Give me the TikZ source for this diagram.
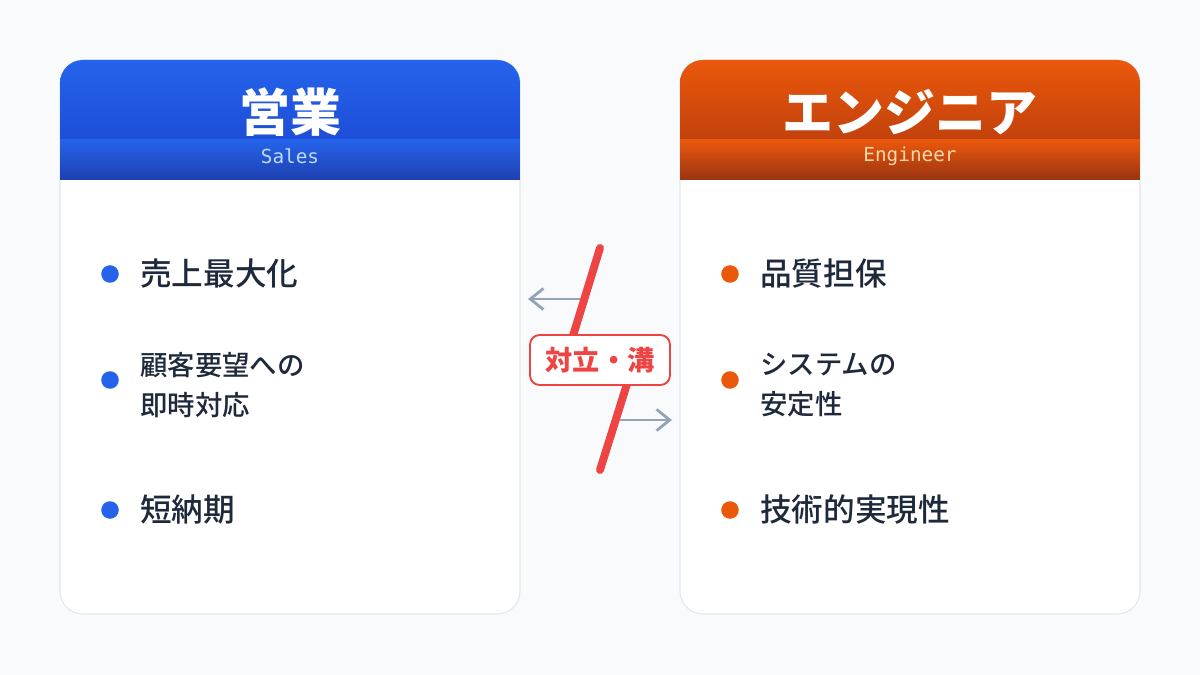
\documentclass[tikz,border=0pt]{standalone}
\usepackage{fontspec}
\setmainfont{Noto Sans CJK JP}
\setmonofont{DejaVu Sans Mono}
\newfontfamily\medfont{Noto Sans CJK JP}[UprightFont=* Medium]
\usetikzlibrary{arrows.meta}
\definecolor{pagebg}{HTML}{F8FAFC}
\definecolor{cardline}{HTML}{E2E8F0}
\definecolor{ink}{HTML}{1E293B}
\definecolor{salesblue}{HTML}{2563EB}
\definecolor{salesmid}{HTML}{1D4ED8}
\definecolor{salesdark}{HTML}{1E40AF}
\definecolor{salespale}{HTML}{BFDBFE}
\definecolor{engorange}{HTML}{EA580C}
\definecolor{engmid}{HTML}{C2410C}
\definecolor{engdark}{HTML}{9A3412}
\definecolor{engpale}{HTML}{FED7AA}
\definecolor{riftred}{HTML}{EF4444}
\definecolor{arrowgray}{HTML}{94A3B8}
\begin{document}
\begin{tikzpicture}[x=0.02cm, y=-0.02cm,
    card/.style ={draw=cardline, fill=white, line width=0.6pt, rounded corners=13pt},
    dot/.style ={circle, fill=#1, inner sep=0pt, minimum size=10pt},
    item/.style ={anchor=west, text=ink, inner sep=0pt, font=\medfont\fontsize{18}{20}\selectfont},
    itemtwo/.style ={anchor=west, text=ink, align=left, inner sep=0pt, font=\medfont\fontsize{15.6}{23}\selectfont},
    title/.style ={text=white, font=\bfseries\fontsize{29}{32}\selectfont},
    subtitle/.style ={font=\ttfamily\fontsize{11}{12}\selectfont},
    gap/.style ={draw=riftred, line width=1.1pt, fill=white, rounded corners=5.5pt, text=riftred,
      font=\bfseries\fontsize{15.5}{18}\selectfont, minimum width=2.8cm, minimum height=1cm},
    push/.style ={draw=arrowgray, line width=1.6pt, -{Straight Barb[length=7.5pt, width=12pt]}}]
   \fill[pagebg] (0,0) rectangle (1200,675);
   \useasboundingbox (0,0) rectangle (1200,675);
   % sales card
   \draw[card] (60,60) rectangle (520,614);
   \begin{scope}
     \clip[rounded corners=13pt] (60,60) rectangle (520,614);
     \shade[top color=salesblue, bottom color=salesmid] (60,60) rectangle (520,140);
     \shade[top color=salesblue, bottom color=salesdark] (60,140) rectangle (520,180);
   \end{scope}
   \node[title] (sales) at (290,112) {営業};
   \node[subtitle, text=salespale] (salessub) at (290,156) {Sales};
   \node[dot=salesblue] (s1) at (110,274) {};
   \node[dot=salesblue] (s2) at (110,380) {};
   \node[dot=salesblue] (s3) at (110,510) {};
   \node[item] (s1t) at (140,274) {売上最大化};
   \node[itemtwo] (s2t) at (140,385) {顧客要望への\\即時対応};
   \node[item] (s3t) at (140,510) {短納期};
   % engineer card
   \draw[card] (680,60) rectangle (1140,614);
   \begin{scope}
     \clip[rounded corners=13pt] (680,60) rectangle (1140,614);
     \shade[top color=engorange, bottom color=engmid] (680,60) rectangle (1140,140);
     \shade[top color=engorange, bottom color=engdark] (680,140) rectangle (1140,180);
   \end{scope}
   \node[title] (engineer) at (910,112) {エンジニア};
   \node[subtitle, text=engpale] (engsub) at (910,156) {Engineer};
   \node[dot=engorange] (e1) at (730,274) {};
   \node[dot=engorange] (e2) at (730,380) {};
   \node[dot=engorange] (e3) at (730,510) {};
   \node[item] (e1t) at (760,274) {品質担保};
   \node[itemtwo] (e2t) at (760,385) {システムの\\安定性};
   \node[item] (e3t) at (760,510) {技術的実現性};
   % rift
   \coordinate (r1) at (600,248);
   \coordinate (r2) at (568,352);
   \coordinate (r3) at (632,368);
   \coordinate (r4) at (600,470);
   \draw[riftred, line width=4.5pt, line cap=round, line join=round] (r1) -- (r2) -- (r3) -- (r4);
   \coordinate (pl1) at (580,299);
   \coordinate (pl2) at (528,299);
   \coordinate (pr1) at (620,420);
   \coordinate (pr2) at (672,420);
   \draw[push] (pl1) -- (pl2);
   \draw[push] (pr1) -- (pr2);
   \node[gap] (rift) at (600,360) {対立・溝};
 \end{tikzpicture}
\end{document}
